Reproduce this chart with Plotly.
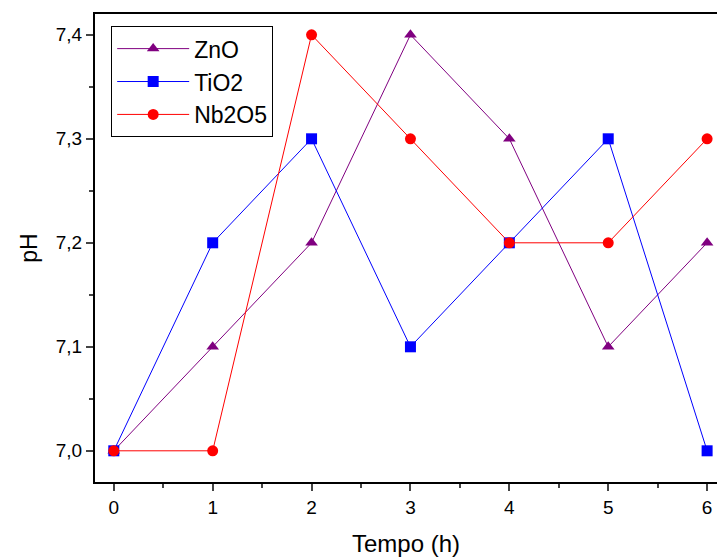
import plotly.graph_objects as go

tempo = [0, 1, 2, 3, 4, 5, 6]
zno = [7.0, 7.1, 7.2, 7.4, 7.3, 7.1, 7.2]
tio2 = [7.0, 7.2, 7.3, 7.1, 7.2, 7.3, 7.0]
nb2o5 = [7.0, 7.0, 7.4, 7.3, 7.2, 7.2, 7.3]

series = [
    ("ZnO", zno, "#800080", "triangle-up"),
    ("TiO2", tio2, "#0000FF", "square"),
    ("Nb2O5", nb2o5, "#FF0000", "circle"),
]

fig = go.Figure()
for name, vals, col, sym in series:
    fig.add_trace(go.Scatter(
        x=tempo, y=vals, name=name, mode="lines+markers",
        line=dict(color=col, width=1),
        marker=dict(color=col, symbol=sym, size=11),
        cliponaxis=False,
    ))

fig.update_layout(
    width=717, height=557,
    margin=dict(l=95, r=0, t=14, b=75),
    plot_bgcolor="white", paper_bgcolor="white",
    separators=",.",
    font=dict(family="Arial, Liberation Sans", color="black", size=19),
    legend=dict(x=0.026, y=0.974, xanchor="left", yanchor="top",
                bordercolor="black", borderwidth=1, bgcolor="white",
                font=dict(size=23), itemwidth=72, tracegroupgap=0),
    showlegend=True,
)
fig.update_xaxes(
    range=[-0.19, 6.1], tickvals=tempo, ticks="outside", ticklen=7, tickwidth=2,
    showline=True, linecolor="black", linewidth=2, mirror=True,
    showgrid=False, zeroline=False,
    minor=dict(ticks="outside", ticklen=4, tickwidth=2, dtick=0.5, tick0=0, showgrid=False),
    title=dict(text="Tempo (h)", font=dict(size=24), standoff=18),
    tickfont=dict(size=19),
)
fig.update_yaxes(
    range=[6.97, 7.42], tickvals=[7.0, 7.1, 7.2, 7.3, 7.4], tickformat=".1f",
    ticks="outside", ticklen=7, tickwidth=2,
    showline=True, linecolor="black", linewidth=2, mirror=False,
    showgrid=False, zeroline=False,
    minor=dict(ticks="outside", ticklen=4, tickwidth=2, dtick=0.05, tick0=7.0, showgrid=False),
    title=dict(text="pH", font=dict(size=23), standoff=12),
    tickfont=dict(size=19),
)

fig.write_html("out.html")
